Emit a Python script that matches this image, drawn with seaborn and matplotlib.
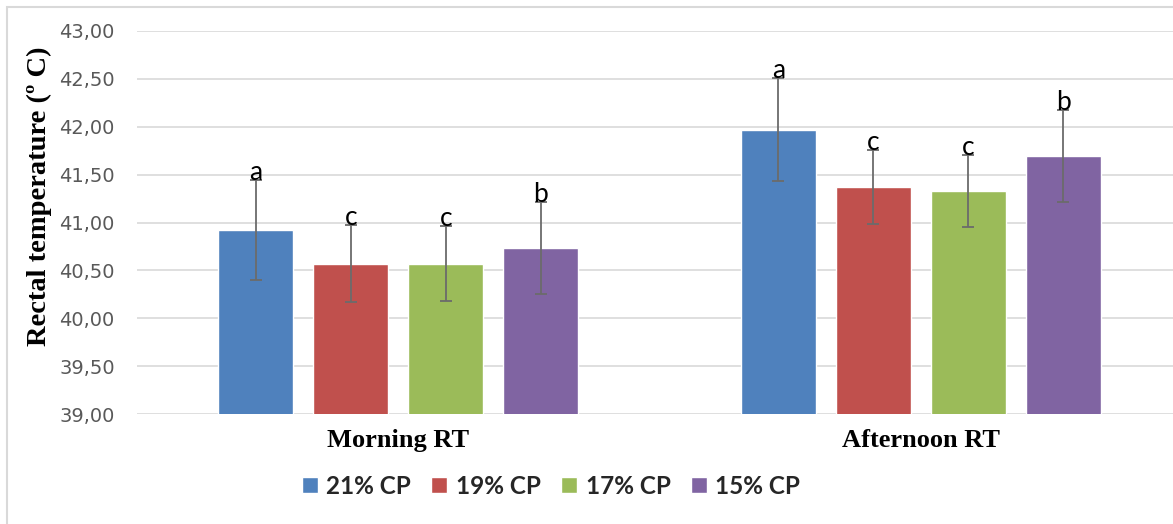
import numpy as np
import pandas as pd
import matplotlib
matplotlib.use("Agg")
import matplotlib.pyplot as plt
import matplotlib.patches as mpatches
from matplotlib.ticker import FuncFormatter
import seaborn as sns

# Rectal temperature by time of day and dietary crude protein level
periods = ["Morning RT", "Afternoon RT"]
diets = ["21% CP", "19% CP", "17% CP", "15% CP"]
morning_mean = [40.92, 40.57, 40.57, 40.73]
afternoon_mean = [41.97, 41.37, 41.33, 41.69]
morning_sd = [0.52, 0.40, 0.39, 0.48]
afternoon_sd = [0.54, 0.39, 0.38, 0.48]
morning_letters = ["a", "c", "c", "b"]
afternoon_letters = ["a", "c", "c", "b"]
colors = ["#4F81BD", "#C0504D", "#9BBB59", "#8064A2"]
yticks = [39.0, 39.5, 40.0, 40.5, 41.0, 41.5, 42.0, 42.5, 43.0]

rows = []
for i, d in enumerate(diets):
    rows.append({"period": periods[0], "diet": d, "value": morning_mean[i],
                 "sd": morning_sd[i], "letter": morning_letters[i]})
    rows.append({"period": periods[1], "diet": d, "value": afternoon_mean[i],
                 "sd": afternoon_sd[i], "letter": afternoon_letters[i]})
df = pd.DataFrame(rows)

sns.set_theme(style="white")
plt.rcParams["font.family"] = ["DejaVu Sans"]

W, H = 1173, 524
fig = plt.figure(figsize=(W / 100, H / 100), dpi=100)
fig.patch.set_facecolor("white")
ax = fig.add_axes([137 / W, 1 - 414 / H, (W - 137) / W, (414 - 31) / H])

sns.barplot(data=df, x="period", y="value", hue="diet", order=periods,
            hue_order=diets, palette=colors, width=0.727, gap=0.21,
            errorbar=None, saturation=1, ax=ax, zorder=2)

ax.set_ylim(39, 43)
ax.set_xlim(-0.5, 1.483)
ax.set_yticks(yticks)
ax.yaxis.set_major_formatter(FuncFormatter(lambda v, p: f"{v:.2f}".replace(".", ",")))
ax.yaxis.grid(True, color="#d9d9d9", lw=1.2, zorder=0)
ax.set_axisbelow(True)
for s in ax.spines.values():
    s.set_visible(False)

ax.tick_params(axis="y", length=0, pad=16, labelsize=14, labelcolor="#595959")
ax.tick_params(axis="x", length=0, pad=11)
for t in ax.get_xticklabels():
    t.set_fontfamily("Liberation Serif")
    t.set_fontweight("bold")
    t.set_fontsize(19)
    t.set_color("black")
ax.set_xlabel("")
ax.set_ylabel("Rectal temperature (º C)", family="Liberation Serif",
              fontweight="bold", fontsize=20.5, color="black")
ax.yaxis.set_label_coords(-0.082, 0.568)

# Error bars and significance letters, placed on each drawn bar
bar_containers = list(ax.containers)
for k, container in enumerate(bar_containers):
    sub = df[df["diet"] == diets[k]].set_index("period").loc[periods]
    for bar, (_, r) in zip(container, sub.iterrows()):
        xc = bar.get_x() + bar.get_width() / 2
        ax.errorbar(xc, r["value"], yerr=r["sd"], fmt="none", ecolor="#6b6b6b",
                    elinewidth=1.3, capsize=4.3, capthick=1.3, zorder=3)
        ax.text(xc, r["value"] + r["sd"], r["letter"], ha="center",
                va="baseline", fontsize=19, family="Lato", color="black",
                zorder=4)

sns.move_legend(ax, "center", bbox_to_anchor=(551 / W, 1 - 486 / H),
                bbox_transform=fig.transFigure, ncol=4, frameon=False,
                title=None, handlelength=0.65, handleheight=0.65,
                handletextpad=0.35, columnspacing=0.85,
                prop={"family": "Lato", "weight": "bold", "size": 17.5})

# Chart-area border
fig.add_artist(mpatches.Rectangle((7 / W, -0.2), 1.2, 1.2 - 7 / H,
                                  transform=fig.transFigure, fill=False,
                                  edgecolor="#d9d9d9", lw=1.5, clip_on=False))

fig.savefig("out.png", dpi=100)
